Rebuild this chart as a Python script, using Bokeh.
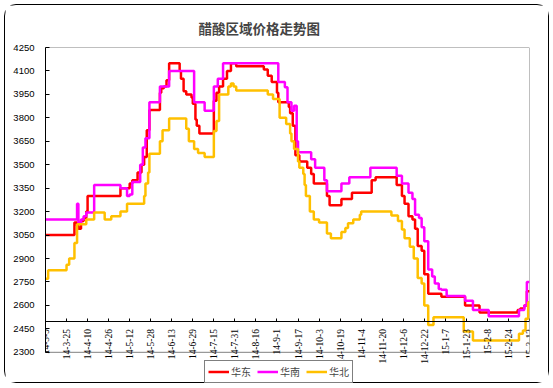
import math
import pandas as pd
from bokeh.plotting import figure
from bokeh.models import (FixedTicker, LinearAxis, Legend, LegendItem, Range1d,
                          LabelSet, ColumnDataSource)
from bokeh.embed import file_html
from bokeh.resources import INLINE

title_text = "醋酸区域价格走势图"
series_names = ["华东", "华南", "华北"]
series_colors = ["#FF0000", "#FF00FF", "#FFC000"]

x_tick_labels = ["14-3-9", "14-3-25", "14-4-10", "14-4-26", "14-5-12", "14-5-28",
                 "14-6-13", "14-6-29", "14-7-15", "14-7-31", "14-8-16", "14-9-1",
                 "14-9-17", "14-10-3", "14-10-19", "14-11-4", "14-11-20", "14-12-6",
                 "14-12-22", "15-1-7", "15-1-23", "15-2-8", "15-2-24", "15-3-12"]
y_ticks = [2300, 2450, 2600, 2750, 2900, 3050, 3200, 3350, 3500, 3650, 3800, 3950, 4100, 4250]

# days since 2014-03-09 at which the price changes, and the new price
hd_day = [0, 22, 24, 25, 27, 29, 31, 32, 57, 64, 66, 70, 73, 75, 77, 79, 87, 88, 90, 92, 94,
          102, 103, 105, 107, 111, 112, 114, 115, 117, 128, 130, 132, 135, 138, 141, 145,
          166, 169, 172, 176, 177, 185, 186, 188, 190, 193, 199, 202, 204, 214, 216, 225,
          233, 248, 251, 267, 271, 273, 276, 279, 281, 283, 286, 288, 291, 301, 319, 330,
          359, 361, 364, 366]
hd_price = [3050, 3130, 3110, 3090, 3140, 3160, 3200, 3300, 3350, 3380, 3400, 3450, 3500, 3550,
            3720, 3850, 3960, 3990, 4000, 4040, 4150, 4100, 4050, 3970, 3950, 3930, 3890, 3790,
            3750, 3700, 3910, 3960, 4000, 4050, 4100, 4150, 4130, 4110, 4070, 4030, 3960, 3900,
            3870, 3830, 3750, 3560, 3520, 3480, 3440, 3380, 3300, 3240, 3280, 3320, 3400, 3420,
            3370, 3300, 3250, 3170, 3150, 3090, 2980, 2950, 2800, 2675, 2655, 2600, 2555, 2570,
            2580, 2600, 2690]

hn_day = [0, 24, 25, 27, 29, 31, 37, 57, 62, 64, 66, 72, 74, 76, 79, 87, 94, 113, 121, 128, 131,
          135, 177, 182, 184, 187, 189, 191, 192, 202, 205, 212, 214, 225, 231, 247, 267, 271,
          276, 279, 281, 284, 286, 288, 291, 294, 296, 299, 301, 305, 319, 325, 337, 360, 364,
          366]
hn_price = [3150, 3250, 3130, 3150, 3170, 3195, 3370, 3350, 3300, 3310, 3390, 3500, 3610, 3670,
            3900, 4000, 4100, 3900, 3845, 4000, 4050, 4150, 4030, 3995, 3900, 3845, 3877, 3650,
            3580, 3535, 3480, 3400, 3330, 3380, 3420, 3480, 3430, 3380, 3320, 3280, 3180, 3160,
            3100, 3010, 2830, 2785, 2740, 2705, 2700, 2660, 2630, 2570, 2530, 2570, 2600, 2750]

hb_day = [0, 2, 16, 18, 22, 24, 31, 37, 45, 50, 57, 62, 75, 76, 78, 79, 87, 89, 94, 107, 109,
          113, 116, 121, 128, 130, 132, 139, 141, 143, 145, 169, 173, 178, 183, 186, 187, 189,
          192, 193, 196, 197, 198, 201, 204, 208, 214, 217, 225, 228, 230, 234, 239, 240, 263,
          268, 271, 273, 277, 280, 283, 286, 288, 291, 295, 318, 325, 360, 363, 365, 367]
hb_price = [2770, 2825, 2860, 2900, 3000, 3120, 3150, 3195, 3150, 3170, 3200, 3250, 3300, 3380,
            3450, 3570, 3650, 3720, 3795, 3730, 3650, 3600, 3575, 3550, 3715, 3780, 3950, 4000,
            4020, 4000, 3975, 3950, 3920, 3800, 3760, 3700, 3650, 3600, 3520, 3480, 3440, 3370,
            3300, 3200, 3150, 3130, 3060, 3030, 3070, 3095, 3125, 3150, 3180, 3200, 3175, 3140,
            3085, 3030, 2975, 2900, 2775, 2740, 2600, 2475, 2525, 2433, 2375, 2418, 2440, 2515,
            2620]

x_axis_cross = 2500
y_view_low = 2094   # the drawing area runs below 2300 so that tick labels and legend are not clipped

start = pd.Timestamp("2014-03-09")
tick_days = [int((pd.to_datetime("20" + s, format="%Y-%m-%d") - start).days) for s in x_tick_labels]
x_end = tick_days[-1]
y_lo, y_hi = y_ticks[0], y_ticks[-1]

p = figure(width=545, height=379, output_backend="svg", toolbar_location=None,
           x_range=Range1d(0, x_end), y_range=Range1d(y_view_low, y_hi),
           x_axis_location=None, min_border_left=40, min_border_right=21,
           min_border_top=42, min_border_bottom=0)
p.styles = {"margin-left": "4px", "margin-top": "4px",
            "border": "1px solid black", "border-radius": "12px"}
p.background_fill_color = "white"
p.border_fill_color = "white"
p.outline_line_color = None
p.xgrid.visible = False
p.ygrid.visible = False

p.title.text = title_text
p.title.text_font = "Noto Sans CJK SC"
p.title.text_font_size = "13.5px"
p.title.text_font_style = "bold"
p.title.align = "left"
p.title.offset = 153
p.title.standoff = 20

# plot-area border (grey)
p.segment(x0=[0, x_end, 0], y0=[y_hi, y_lo, y_lo], x1=[x_end, x_end, x_end], y1=[y_hi, y_hi, y_lo],
          line_color="#808080", line_width=1)

ya = p.yaxis[0]
ya.bounds = (y_lo, y_hi)
ya.ticker = FixedTicker(ticks=y_ticks)
ya.axis_line_color = "black"
ya.major_tick_in = 4
ya.major_tick_out = 0
ya.minor_tick_line_color = None
ya.major_label_text_font = "Liberation Sans"
ya.major_label_text_font_size = "9.5px"
ya.major_label_text_color = "black"
ya.major_label_standoff = 11

xa = LinearAxis(fixed_location=x_axis_cross)
xa.ticker = FixedTicker(ticks=tick_days)
xa.major_label_text_color = None
xa.major_label_text_font_size = "1px"
xa.axis_line_color = "black"
xa.major_tick_in = 3
xa.major_tick_out = 0
xa.minor_tick_line_color = None
p.add_layout(xa, "below")

tick_src = ColumnDataSource(dict(x=tick_days, y=[x_axis_cross] * len(tick_days), text=x_tick_labels))
tick_labels = LabelSet(x="x", y="y", text="text", source=tick_src, angle=math.pi / 2,
                       text_align="right", text_baseline="middle", y_offset=-8,
                       text_font="Liberation Sans", text_font_size="9.5px", text_color="black")
p.add_layout(tick_labels)

items = []
for name, color, days, prices in [(series_names[0], series_colors[0], hd_day, hd_price),
                                   (series_names[1], series_colors[1], hn_day, hn_price),
                                   (series_names[2], series_colors[2], hb_day, hb_price)]:
    r = p.step(x=days + [x_end], y=prices + [prices[-1]], mode="after",
               line_color=color, line_width=2.5)
    items.append(LegendItem(label=name, renderers=[r]))

legend = Legend(items=items, orientation="horizontal", location=(159, 1))
legend.label_text_font = "Noto Sans CJK SC"
legend.label_text_font_size = "10px"
legend.glyph_width = 21
legend.glyph_height = 11
legend.label_height = 11
legend.label_standoff = 2
legend.spacing = 6
legend.padding = 3
legend.margin = 0
legend.border_line_color = "black"
legend.border_line_width = 1
legend.background_fill_alpha = 1
p.add_layout(legend, "center")

open("out.html", "w").write(file_html(p, INLINE))
